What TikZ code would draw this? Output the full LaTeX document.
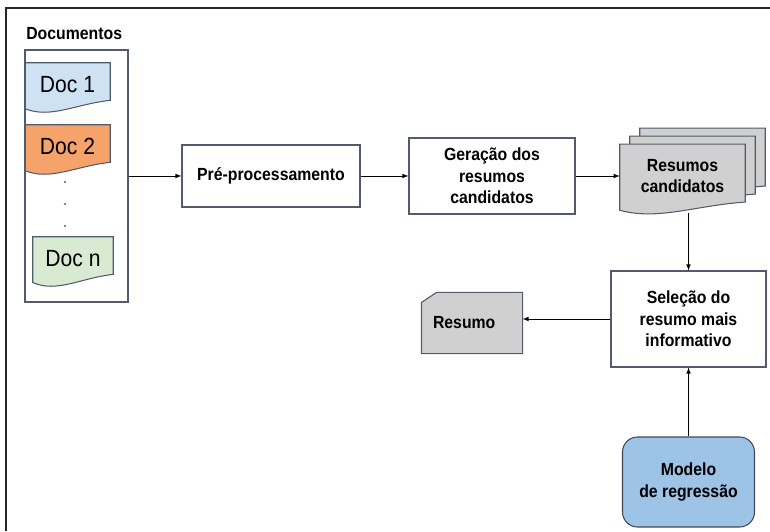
\documentclass[tikz,border=0pt]{standalone}
\usepackage{fontspec}
\setmainfont{Liberation Sans}
\newfontfamily\narrowface[FakeStretch=0.9]{Liberation Sans}
\usetikzlibrary{positioning,calc,backgrounds}

\definecolor{docblue}{RGB}{207,226,243}
\definecolor{docorange}{RGB}{245,163,106}
\definecolor{docgreen}{RGB}{217,234,211}
\definecolor{sumgray}{RGB}{208,208,208}
\definecolor{modelblue}{RGB}{157,195,230}
\definecolor{edgegray}{RGB}{80,92,108}

\newcommand{\boxfont}{\narrowface\bfseries\fontsize{15}{18.5}\selectfont}

\tikzset{
  procbox/.style  = {shape=rectangle, draw=edgegray, line width=0.9pt,
                     align=center, fill=white, font=\boxfont},
  docpage/.style  = {shape=rectangle, inner sep=0pt,
                     minimum width=2.55cm, minimum height=1.29cm,
                     font=\narrowface\fontsize{20}{22}\selectfont},
  candpage/.style = {shape=rectangle, inner sep=0pt, align=center,
                     minimum width=3.75cm, minimum height=1.9cm, font=\boxfont},
  outline/.style  = {draw=edgegray, line width=0.9pt},
  flow/.style     = {draw, line width=0.8pt, -latex}
}

% page with a wavy lower edge, drawn round a node
\newcommand{\wavepage}[2]{%
  \draw[outline, fill=#2] (#1.north west) -- (#1.north east)
    -- ([yshift=5pt]#1.south east)
    .. controls ($(#1.south west)!0.6!(#1.south east)+(0,2pt)$)
            and ($(#1.south west)!0.3!(#1.south east)+(0,-11pt)$)
    .. ([yshift=-2pt]#1.south west) -- cycle;}

\begin{document}
\begin{tikzpicture}
  \useasboundingbox (0,0) rectangle (23.1,15.93);
  \draw[line width=1.4pt, black!85] (0.18,0) -- (0.18,15.69) -- (23.1,15.69);

  % input documents
  \node [procbox, fill=none, minimum width=3.09cm, minimum height=7.56cm] (docs) at (2.295,10.65) {};
  \node [above=5pt of docs.north west, anchor=south west, xshift=-2pt, font=\boxfont] (doclabel) {Documentos};
  \node [docpage] (doc1) at (2.025,13.395) {Doc 1};
  \node [docpage] (doc2) at (2.025,11.535) {Doc 2};
  \node [docpage, minimum width=2.4cm] (docn) at (2.19,8.175) {Doc n};
  \foreach \y in {10.47,9.81,9.15}
    \fill [gray] (1.95,\y) circle (1.1pt);

  % pipeline
  \node [procbox, minimum width=5.34cm, minimum height=1.86cm] (prep) at (8.13,10.65) {Pré-processamento};
  \node [procbox, minimum width=4.98cm, minimum height=2.28cm] (gen) at (14.76,10.65) {Geração dos\\resumos\\candidatos};
  \node [candpage] (cand3) at (21.075,11.13) {};
  \node [candpage] (cand2) at (20.775,10.89) {};
  \node [candpage] (cand) at (20.475,10.65) {Resumos\\candidatos};
  \node [procbox, minimum width=4.65cm, minimum height=2.88cm] (sel) at (20.655,6.36) {Seleção do\\resumo mais\\informativo};
  \node [procbox, draw=none, fill=none, align=left, text width=2.34cm, inner xsep=0.33cm,
         minimum height=1.8cm] (summary) at (14.16,6.24) {Resumo};
  \node [procbox, rounded corners=0.45cm, fill=modelblue, draw=edgegray!80!black,
         minimum width=3.96cm, minimum height=2.7cm] (model) at (20.655,1.47) {Modelo\\de regressão};

  \begin{scope}[on background layer]
    \wavepage{doc1}{docblue}
    \wavepage{doc2}{docorange}
    \wavepage{docn}{docgreen}
    \wavepage{cand3}{sumgray}
    \wavepage{cand2}{sumgray}
    \wavepage{cand}{sumgray}
    \draw [outline, fill=sumgray] ([xshift=0.45cm]summary.north west) -- (summary.north east)
      -- (summary.south east) -- (summary.south west)
      -- ([yshift=-0.3cm]summary.north west) -- cycle;
  \end{scope}

  % connectors
  \draw [flow] (docs) -- (prep);
  \draw [flow] (prep) -- (gen);
  \draw [flow] (gen) -- (cand);
  \draw [flow] ([yshift=-4pt]sel.north |- cand.south) -- (sel.north);
  \draw [flow] (sel.west) -- (summary.east |- sel.west);
  \draw [flow] (model) -- (sel);
\end{tikzpicture}
\end{document}
